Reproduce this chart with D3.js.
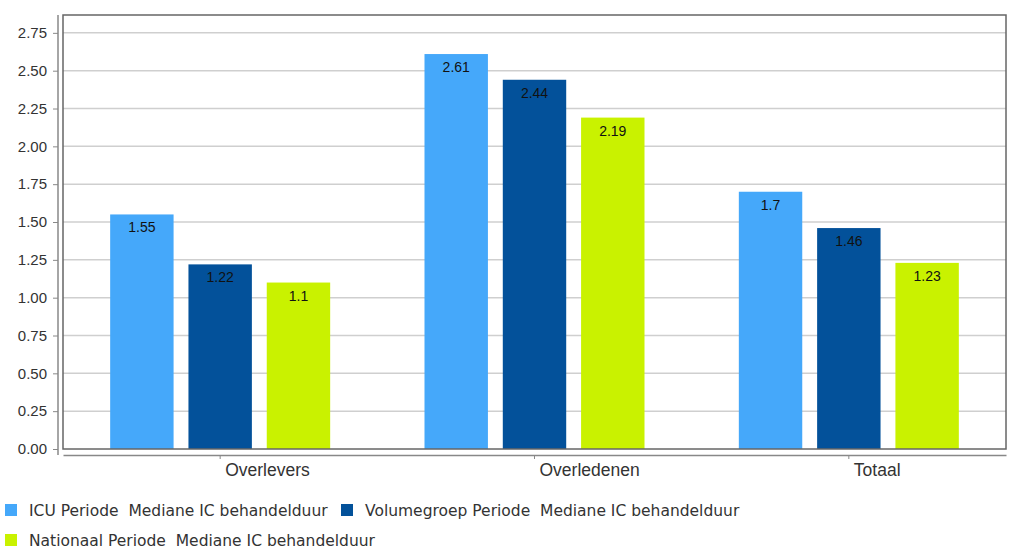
<!DOCTYPE html>
<html><head><meta charset="utf-8">
<script src="https://cdn.jsdelivr.net/npm/d3@7"></script>
<style>body{margin:0;background:#fff}svg{display:block}</style>
</head><body><svg id="c" width="1024" height="556"></svg>
<script>
const categories = ["Overlevers", "Overledenen", "Totaal"];
const seriesNames = [
  "ICU Periode  Mediane IC behandelduur",
  "Volumegroep Periode  Mediane IC behandelduur",
  "Nationaal Periode  Mediane IC behandelduur"
];
const icuValues = [1.55, 2.61, 1.7];
const volumeValues = [1.22, 2.44, 1.46];
const nationalValues = [1.1, 2.19, 1.23];
const yTicks = [0, 0.25, 0.5, 0.75, 1, 1.25, 1.5, 1.75, 2, 2.25, 2.5, 2.75];
const colors = ["#45a8fa", "#03519a", "#c9f200"];

const seriesValues = [icuValues, volumeValues, nationalValues];
const svg = d3.select("#c");
const box = {l: 63, r: 1006, t: 15, b: 449};

const y = d3.scaleLinear().domain([0, 2.868]).range([box.b, box.t]);
const x = d3.scaleBand().domain(categories).range([box.l, box.r]).padding(0);
const xs = d3.scaleBand().domain(d3.range(3)).range([-110, 110]).paddingInner(0.19).paddingOuter(0);

// gridlines
svg.append("g").selectAll("line").data(yTicks.filter(d => d > 0)).join("line")
  .attr("x1", box.l).attr("x2", box.r)
  .attr("y1", d => y(d)).attr("y2", d => y(d))
  .attr("stroke", "#cfcfcf").attr("stroke-width", 1.5);

// bars
const groups = svg.append("g").selectAll("g").data(categories).join("g")
  .attr("transform", c => `translate(${x(c) + x.bandwidth() / 2},0)`);
groups.each(function(c, ci) {
  const g = d3.select(this);
  seriesValues.forEach((vals, si) => {
    const v = vals[ci];
    g.append("rect")
      .attr("x", xs(si)).attr("width", xs.bandwidth())
      .attr("y", y(v)).attr("height", y(0) - y(v))
      .attr("fill", colors[si]);
    g.append("text")
      .attr("x", xs(si) + xs.bandwidth() / 2).attr("y", y(v) + 18)
      .attr("text-anchor", "middle")
      .attr("font-family", "Liberation Sans, Arial, sans-serif")
      .attr("font-size", 14).attr("fill", "#111")
      .text(String(v));
  });
});

// plot box
svg.append("rect").attr("x", box.l).attr("y", box.t)
  .attr("width", box.r - box.l).attr("height", box.b - box.t)
  .attr("fill", "none").attr("stroke", "#666").attr("stroke-width", 1.5);

// y axis
const yAxis = d3.axisLeft(y).tickValues(yTicks).tickFormat(d3.format(".2f")).tickSize(5).tickPadding(6);
const ya = svg.append("g").attr("transform", "translate(58,0)").call(yAxis);
ya.select(".domain").attr("stroke", "#888").attr("stroke-width", 1.5).attr("d", `M0,${box.t}V${box.b + 6}`);
ya.selectAll(".tick line").attr("stroke", "#888");
ya.selectAll("text").attr("font-family", "Liberation Sans, Arial, sans-serif").attr("font-size", 15).attr("fill", "#333");

// x axis
const xAxis = d3.axisBottom(x).tickSize(4).tickSizeOuter(0);
const xa = svg.append("g").attr("transform", "translate(0,455)").call(xAxis);
xa.select(".domain").attr("stroke", "#888").attr("stroke-width", 1.5);
xa.selectAll(".tick line").attr("stroke", "#888");
xa.selectAll("text").attr("font-family", "Liberation Sans, Arial, sans-serif").attr("font-size", 17.5).attr("fill", "#333")
  .attr("text-anchor", "start").attr("x", 5).attr("y", 9).attr("dy", "0.71em");

// legend
const legendPos = [[5, 510], [341, 510], [5, 540]];
seriesNames.forEach((name, i) => {
  const [lx, ly] = legendPos[i];
  svg.append("rect").attr("x", lx).attr("y", ly - 6).attr("width", 12).attr("height", 12).attr("fill", colors[i]);
  svg.append("text").attr("x", lx + 24).attr("y", ly).attr("dy", "0.36em")
    .attr("font-family", "DejaVu Sans, Verdana, sans-serif").attr("font-size", 15.5)
    .attr("fill", "#333").style("white-space", "pre").attr("xml:space", "preserve")
    .text(name);
});
</script></body></html>
